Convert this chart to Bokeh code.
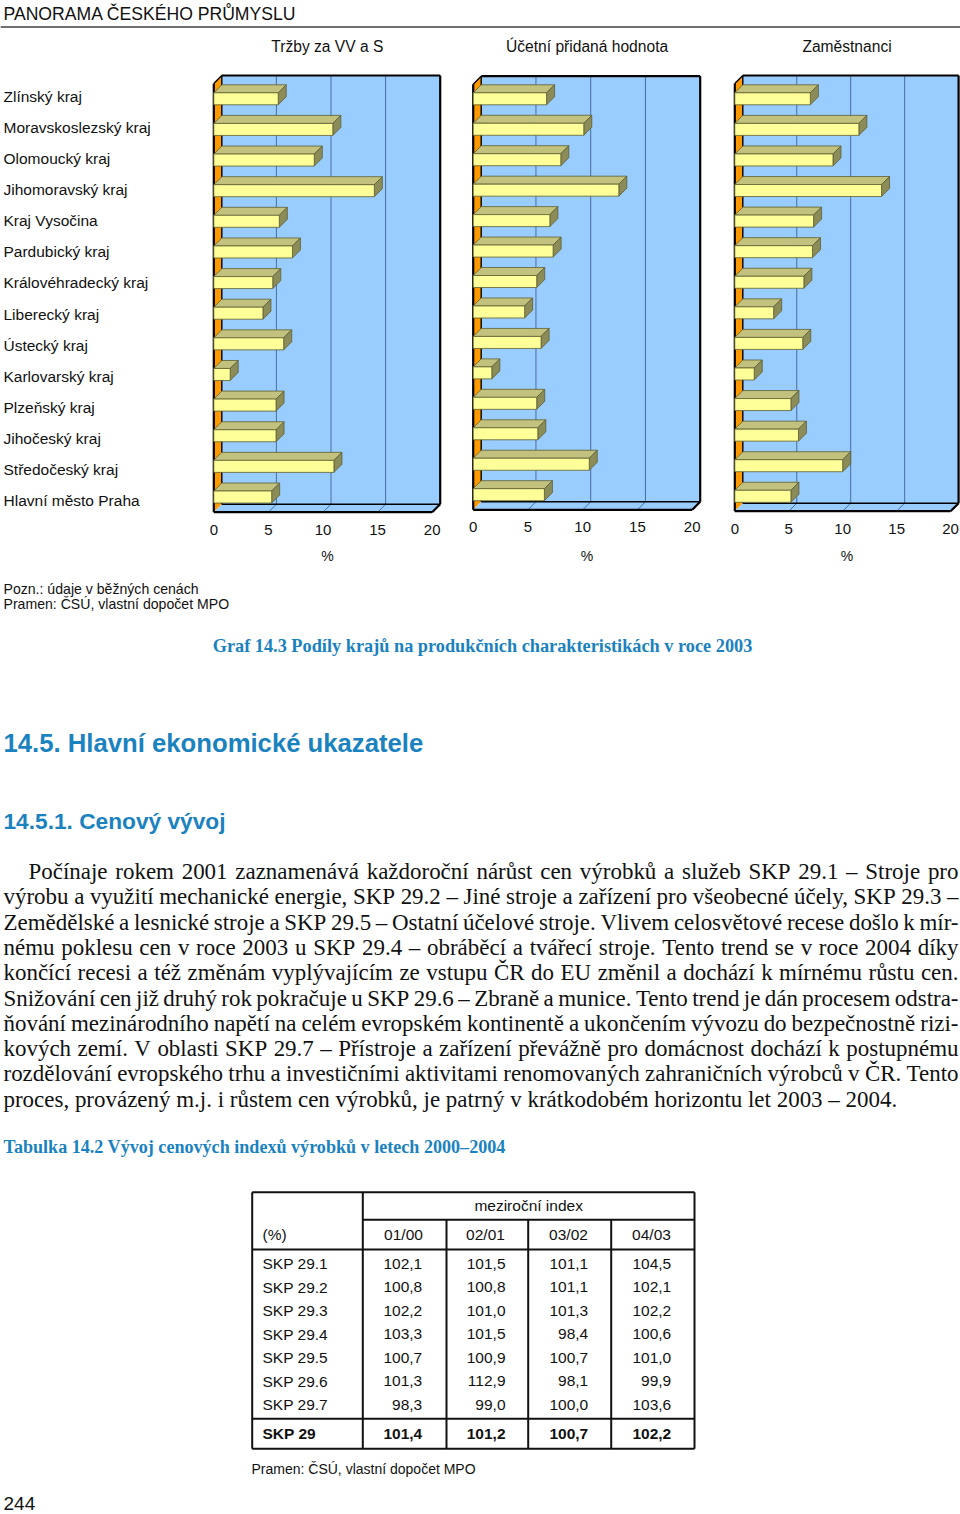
import glob
from bokeh.plotting import figure
from bokeh.models import Range1d
from bokeh.embed import file_html
from bokeh.resources import INLINE
from bokeh.core.properties import value

# ---------------- data ----------------
regions = ["Zlínský kraj", "Moravskoslezský kraj", "Olomoucký kraj", "Jihomoravský kraj",
           "Kraj Vysočina", "Pardubický kraj", "Královéhradecký kraj", "Liberecký kraj",
           "Ústecký kraj", "Karlovarský kraj", "Plzeňský kraj", "Jihočeský kraj",
           "Středočeský kraj", "Hlavní město Praha"]
trzby = [5.9, 10.9, 9.2, 14.7, 6.0, 7.2, 5.4, 4.5, 6.4, 1.5, 5.7, 5.7, 11.0, 5.3]
pridana = [6.7, 10.1, 8.0, 13.3, 7.0, 7.3, 5.8, 4.7, 6.2, 1.7, 5.8, 5.9, 10.6, 6.5]
zamestnanci = [7.0, 11.5, 9.1, 13.6, 7.3, 7.2, 6.4, 3.6, 6.3, 1.8, 5.2, 5.9, 10.0, 5.2]
panel_titles = ["Tržby za VV a S", "Účetní přidaná hodnota", "Zaměstnanci"]
x_ticks = [0, 5, 10, 15, 20]

table_rows = ["SKP 29.1", "SKP 29.2", "SKP 29.3", "SKP 29.4", "SKP 29.5", "SKP 29.6", "SKP 29.7"]
table_cols = ["01/00", "02/01", "03/02", "04/03"]
i0100 = [102.1, 100.8, 102.2, 103.3, 100.7, 101.3, 98.3]
i0201 = [101.5, 100.8, 101.0, 101.5, 100.9, 112.9, 99.0]
i0302 = [101.1, 101.1, 101.3, 98.4, 100.7, 98.1, 100.0]
i0403 = [104.5, 102.1, 102.2, 100.6, 101.0, 99.9, 103.6]
total_label = "SKP 29"
total_vals = [101.4, 101.2, 100.7, 102.2]

body_lines = [
    "Počínaje rokem 2001 zaznamenává každoroční nárůst cen výrobků a služeb SKP 29.1 – Stroje pro",
    "výrobu a využití mechanické energie, SKP 29.2 – Jiné stroje a zařízení pro všeobecné účely, SKP 29.3 –",
    "Zemědělské a lesnické stroje a SKP 29.5 – Ostatní účelové stroje. Vlivem celosvětové recese došlo k mír-",
    "nému poklesu cen v roce 2003 u SKP 29.4 – obráběcí a tvářecí stroje. Tento trend se v roce 2004 díky",
    "končící recesi a též změnám vyplývajícím ze vstupu ČR do EU změnil a dochází k mírnému růstu cen.",
    "Snižování cen již druhý rok pokračuje u SKP 29.6 – Zbraně a munice. Tento trend je dán procesem odstra-",
    "ňování mezinárodního napětí na celém evropském kontinentě a ukončením vývozu do bezpečnostně rizi-",
    "kových zemí. V oblasti SKP 29.7 – Přístroje a zařízení převážně pro domácnost dochází k postupnému",
    "rozdělování evropského trhu a investičními aktivitami renomovaných zahraničních výrobců v ČR. Tento",
    "proces, provázený m.j. i růstem cen výrobků, je patrný v krátkodobém horizontu let 2003 – 2004.",
]

# ---------------- layout / style ----------------
W, H = 960, 1514
BLUE = "#1B82C0"
SANS = "Liberation Sans"
SERIF = "Liberation Serif"

p = figure(width=W, height=H, x_range=Range1d(0, W), y_range=Range1d(H, 0),
           x_axis_type=None, y_axis_type=None, output_backend="svg",
           toolbar_location=None, min_border=0)
p.outline_line_color = None
p.background_fill_color = "white"
p.border_fill_color = "white"
p.grid.visible = False


def txt(x, y, s, size, color="#111111", font=SANS, style="normal", align="left", **kw):
    p.text(x=[x], y=[y], text=[s], text_font=value(font), text_font_size=f"{size}px",
           text_color=color, text_font_style=style, text_align=align,
           text_baseline="middle", **kw)


# header
txt(3, 13, "PANORAMA ČESKÉHO PRŮMYSLU", 17.6)
p.segment(x0=[0], y0=[26.5], x1=[W], y1=[26.5], line_color="#707070", line_width=2)

# region labels
lab_y0, lab_y1 = 96, 500
for i, r in enumerate(regions):
    txt(3, lab_y0 + i * (lab_y1 - lab_y0) / 13, r, 15.5)

# panels geometry (front-plane origin, px per unit, wall top, floor front, first/last bar centre, tick y)
panels = [
    dict(x0=213.3, s=10.92, top=75.0, ff=511.7, c0=98.3, c13=496.5, ty=529),
    dict(x0=472.7, s=10.95, top=75.7, ff=509.3, c0=98.3, c13=494.2, ty=526.5),
    dict(x0=734.3, s=10.79, top=75.0, ff=510.7, c0=98.3, c13=495.8, ty=528),
]
series = [trzby, pridana, zamestnanci]
DEPTH = 8.0
WALL = "#99CCFF"
GRID = "#4A6E9A"

for k, (vals, g, title) in enumerate(zip(series, panels, panel_titles)):
    xn, yn = f"x{k}", f"y{k}"
    s = g["s"]
    p.extra_x_ranges[xn] = Range1d(-g["x0"] / s, (W - g["x0"]) / s)
    sp = (g["c13"] - g["c0"]) / 13.0
    p.extra_y_ranges[yn] = Range1d((H - g["c0"]) / sp, -g["c0"] / sp)
    dx = DEPTH / s
    top, ff = g["top"], g["ff"]
    fb = ff - DEPTH
    xmax = x_ticks[-1]

    # walls
    p.quad(left=[dx], right=[xmax + dx], top=[top], bottom=[fb], fill_color=WALL,
           line_color=None, x_range_name=xn)
    p.patch(x=[0, dx, dx, 0], y=[top + DEPTH, top, fb, ff], fill_color="#FF9900",
            line_color=None, x_range_name=xn)
    p.patch(x=[0, dx, xmax + dx, xmax], y=[ff, fb, fb, ff], fill_color=WALL,
            line_color=None, x_range_name=xn)
    gt = x_ticks[1:-1]
    p.segment(x0=[t + dx for t in gt], y0=[top] * len(gt), x1=[t + dx for t in gt],
              y1=[fb] * len(gt), line_color=GRID, line_width=1, x_range_name=xn)
    p.segment(x0=[t + dx for t in gt], y0=[fb] * len(gt), x1=gt, y1=[ff] * len(gt),
              line_color=GRID, line_width=1, x_range_name=xn)
    # outlines
    p.segment(x0=[dx, xmax + dx, 0, 0, xmax],
              y0=[top, top, top + DEPTH, ff, ff],
              x1=[xmax + dx, xmax + dx, 0, xmax, xmax + dx],
              y1=[top, fb, ff, ff, fb],
              line_color="black", line_width=2.2, x_range_name=xn)
    p.segment(x0=[dx, 0, dx], y0=[top, top + DEPTH, fb], x1=[dx, dx, xmax + dx],
              y1=[fb, top, fb], line_color="black", line_width=1.4, x_range_name=xn)

    # bars (3D)
    h = 12.0 / sp
    ddy = DEPTH / sp
    idx = list(range(len(vals)))
    tops = [i - h / 2 for i in idx]
    bots = [i + h / 2 for i in idx]
    p.patches(xs=[[0, dx, v + dx, v] for v in vals],
              ys=[[t, t - ddy, t - ddy, t] for t in tops],
              fill_color="#C2C27E", line_color="#5E5E30", line_width=0.8,
              x_range_name=xn, y_range_name=yn)
    p.patches(xs=[[v, v + dx, v + dx, v] for v in vals],
              ys=[[t, t - ddy, b - ddy, b] for t, b in zip(tops, bots)],
              fill_color="#8C8C58", line_color="#5E5E30", line_width=0.8,
              x_range_name=xn, y_range_name=yn)
    p.quad(left=[0] * len(vals), right=vals, top=tops, bottom=bots,
           fill_color="#FFFF99", line_color="#5E5E30", line_width=0.8,
           x_range_name=xn, y_range_name=yn)

    # ticks, % label, title
    p.text(x=x_ticks, y=[g["ty"]] * len(x_ticks), text=[str(t) for t in x_ticks],
           text_font=value(SANS), text_font_size="15px", text_color="#111111",
           text_align="center", text_baseline="middle", x_range_name=xn)
    p.text(x=[10.4], y=[555], text=["%"], text_font=value(SANS), text_font_size="14px",
           text_color="#111111", text_align="center", text_baseline="middle", x_range_name=xn)
    p.text(x=[10.4], y=[46], text=[title], text_font=value(SANS), text_font_size="15.6px",
           text_color="#111111", text_align="center", text_baseline="middle", x_range_name=xn)

# notes
txt(3, 588, "Pozn.: údaje v běžných cenách", 14.1)
txt(3, 603.5, "Pramen: ČSÚ, vlastní dopočet MPO", 14.1)

# graph caption
txt(482, 645, "Graf 14.3 Podíly krajů na produkčních charakteristikách v roce 2003", 18.3,
    color=BLUE, font=SERIF, style="bold", align="center")

# headings
txt(3, 742, "14.5. Hlavní ekonomické ukazatele", 25.7, color=BLUE, style="bold")
txt(3, 820, "14.5.1. Cenový vývoj", 22.7, color=BLUE, style="bold")

# body text (justified)
measure = None
try:
    from PIL import ImageFont
    _paths = glob.glob("/usr/share/fonts/**/LiberationSerif-Regular.ttf", recursive=True)
    _f100 = ImageFont.truetype(_paths[0], 100)

    def measure(s_, size_):
        return _f100.getlength(s_) * size_ / 100.0
except Exception:
    measure = None

line_y0, line_dy = 871, 25.3
if measure is not None:
    body_size = 100 * 894.0 / measure(body_lines[-1], 100)
    body_size = max(17.0, min(23.0, body_size))
else:
    body_size = 20.0

for li, line in enumerate(body_lines):
    y = line_y0 + li * line_dy
    left = 28 if li == 0 else 3
    if measure is not None and li < len(body_lines) - 1:
        words = line.split(" ")
        ws = [measure(w, body_size) for w in words]
        gap = (958 - left - sum(ws)) / (len(words) - 1)
        xs, x = [], left
        for w in ws:
            xs.append(x)
            x += w + gap
        p.text(x=xs, y=[y] * len(words), text=words, text_font=value(SERIF),
               text_font_size=f"{body_size:.2f}px", text_color="#111111",
               text_align="left", text_baseline="middle")
    else:
        txt(left, y, line, round(body_size, 2), font=SERIF)

# table caption
txt(3, 1146, "Tabulka 14.2 Vývoj cenových indexů výrobků v letech 2000–2004", 18.1,
    color=BLUE, font=SERIF, style="bold")

# table
col_x = [251.7, 362.3, 446.0, 527.7, 610.7, 694.0]
t_top, t_h1, t_h2, t_sep, t_bot = 1191.7, 1219.3, 1249.0, 1418.3, 1448.3
LW = 2.0
p.segment(x0=[col_x[0], col_x[0], col_x[0], col_x[-1], col_x[1], col_x[0], col_x[0]],
          y0=[t_top, t_bot, t_top, t_top, t_h1, t_h2, t_sep],
          x1=[col_x[-1], col_x[-1], col_x[0], col_x[-1], col_x[-1], col_x[-1], col_x[-1]],
          y1=[t_top, t_bot, t_bot, t_bot, t_h1, t_h2, t_sep],
          line_color="#111111", line_width=LW)
p.segment(x0=col_x[1:5], y0=[t_top] + [t_h1] * 3, x1=col_x[1:5], y1=[t_bot] * 4,
          line_color="#111111", line_width=LW)

TS = 15.5
txt((col_x[1] + col_x[-1]) / 2, 1205, "meziroční index", TS, align="center")
txt(262, 1234, "(%)", TS)
hdr_cx = [403, 485, 568, 651]
val_rx = [421.7, 505.0, 587.7, 670.7]
for cx, c in zip(hdr_cx, table_cols):
    txt(cx, 1234, c, TS, align="center")

row_y0, row_dy = 1263, 23.5
cols_vals = [i0100, i0201, i0302, i0403]


def fmt(v):
    return f"{v:.1f}".replace(".", ",")


for ri, rl in enumerate(table_rows):
    y = row_y0 + ri * row_dy
    txt(262, y, rl, TS)
    for rx, cv in zip(val_rx, cols_vals):
        txt(rx, y, fmt(cv[ri]), TS, align="right")
txt(262, 1433, total_label, TS, style="bold")
for rx, v in zip(val_rx, total_vals):
    txt(rx, 1433, fmt(v), TS, style="bold", align="right")

txt(251, 1468, "Pramen: ČSÚ, vlastní dopočet MPO", 14)
txt(3, 1503, "244", 19)

open("out.html", "w").write(file_html(p, INLINE))
